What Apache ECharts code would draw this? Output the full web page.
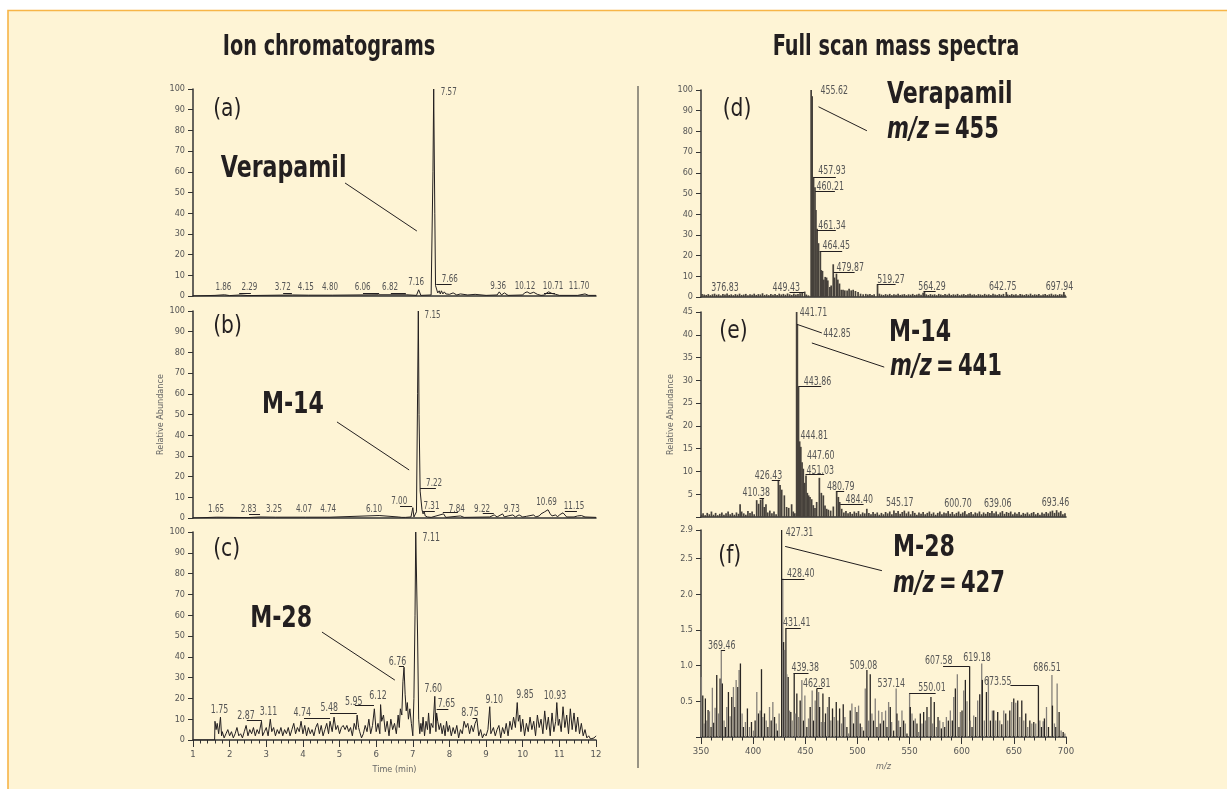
<!DOCTYPE html>
<html><head><meta charset="utf-8">
<script src="https://cdn.jsdelivr.net/npm/echarts@6/dist/echarts.min.js"></script>
<style>html,body{margin:0;padding:0;background:#fff}#c{width:1227px;height:789px}</style>
</head><body><div id="c"></div>
<script>
// ---------------- DATA ----------------
const columnTitles = ['Ion chromatograms', 'Full scan mass spectra'];
const panelLetters = ['(a)', '(b)', '(c)', '(d)', '(e)', '(f)'];
const compounds = ['Verapamil', 'M-14', 'M-28'];
const mzTargets = ['455', '441', '427'];
const timeRange = [1, 12];
const mzRange = [350, 700];
const yMaxes = [100, 100, 100, 100, 45, 2.9];
const yIntervals = [10, 10, 10, 10, 5, 0.5];

// chromatogram (a) : [time, relative abundance]
const chromA = [[1.0,0],[1.6,0.3],[1.86,0.6],[2.0,0.2],[2.29,0.5],[2.5,0.2],[3.72,0.5],[4.15,0.4],[4.8,0.4],[6.06,0.6],[6.82,0.6],[7.10,0.3],[7.16,3],[7.22,0.3],[7.50,0.5],[7.55,60],[7.57,100],[7.60,40],[7.62,5],[7.64,4.5],[7.66,5],[7.68,1.5],[7.72,2.5],[7.75,1],[7.78,2.5],[7.82,1],[7.86,2],[7.9,1],[7.95,1.5],[8.0,0.8],[8.1,1.5],[8.2,0.5],[8.3,1],[8.5,0.5],[8.7,0.8],[9.0,0.3],[9.3,0.5],[9.36,2],[9.42,0.5],[9.5,1.5],[9.6,0.3],[10.0,0.5],[10.05,1.5],[10.12,2],[10.2,1.2],[10.3,1.8],[10.4,0.8],[10.5,0.3],[10.6,0.5],[10.65,1.5],[10.71,2],[10.8,1.2],[10.9,0.8],[11.0,0.3],[11.5,0.3],[11.7,1],[11.8,0.3],[12,0.3]];
// chromatogram (b)
const chromB = [[1,0],[1.65,0.4],[2.5,0.2],[2.83,0.5],[3.25,0.4],[4.07,0.4],[4.74,0.4],[6.08,1.2],[6.10,1.5],[6.12,0.5],[6.6,0.5],[6.65,1.2],[6.7,0.3],[6.75,1],[6.8,0.3],[6.95,0.5],[7.00,5],[7.03,0.5],[7.10,3],[7.13,60],[7.15,100],[7.17,50],[7.20,13],[7.22,13],[7.25,4],[7.28,2],[7.31,3],[7.34,1],[7.4,0.5],[7.45,1],[7.5,0.3],[7.84,2],[7.9,0.3],[8.3,1],[8.4,0.3],[9.1,0.5],[9.22,1.5],[9.3,0.5],[9.45,2],[9.5,0.5],[9.6,1],[9.73,1.5],[9.8,0.5],[9.9,1.5],[10.0,0.5],[10.1,0.8],[10.3,1.5],[10.35,0.5],[10.45,1],[10.5,2],[10.55,1.5],[10.6,3],[10.65,2.5],[10.69,4],[10.72,3.5],[10.75,2],[10.8,1],[10.9,1.5],[10.95,0.5],[11.0,1.5],[11.05,0.8],[11.1,2.5],[11.15,3],[11.2,0.5],[11.4,0.5],[11.5,1],[11.55,0.5],[11.6,1.2],[11.7,0.5],[12,0.3]];
// chromatogram (c)
const chromC = [[1.0,0],[1.59,0],[1.60,9],[1.63,5],[1.66,8],[1.70,3],[1.75,11],[1.78,2],[1.80,4],[1.85,1],[1.90,3],[1.95,5],[2.00,2],[2.05,4],[2.10,1],[2.15,3],[2.20,6],[2.25,2],[2.30,3],[2.35,1],[2.40,4],[2.45,7],[2.50,2],[2.55,5],[2.60,3],[2.65,6],[2.70,2],[2.75,5],[2.80,3],[2.87,9],[2.90,2],[2.95,4],[3.00,6],[3.05,2],[3.11,10],[3.15,4],[3.20,6],[3.25,2],[3.30,5],[3.35,3],[3.40,6],[3.45,2],[3.50,5],[3.55,3],[3.60,6],[3.65,2],[3.70,5],[3.75,8],[3.80,3],[3.85,6],[3.90,4],[3.95,9],[4.00,3],[4.05,7],[4.10,2],[4.15,6],[4.20,3],[4.25,5],[4.30,2],[4.35,6],[4.40,8],[4.45,3],[4.50,7],[4.55,2],[4.60,5],[4.65,8],[4.70,3],[4.74,9],[4.80,4],[4.85,11],[4.90,5],[4.95,7],[5.00,3],[5.05,6],[5.10,7],[5.15,5],[5.20,7],[5.25,4],[5.30,6],[5.35,2],[5.40,8],[5.45,5],[5.48,12],[5.52,6],[5.55,4],[5.60,1],[5.65,3],[5.70,7],[5.75,4],[5.80,10],[5.85,3],[5.90,7],[5.95,15],[6.00,4],[6.05,8],[6.10,3],[6.12,17],[6.15,9],[6.20,12],[6.25,4],[6.30,9],[6.35,2],[6.40,10],[6.45,5],[6.50,8],[6.55,3],[6.60,12],[6.63,6],[6.66,15],[6.70,12],[6.73,28],[6.76,35],[6.79,22],[6.82,14],[6.85,18],[6.88,10],[6.92,15],[6.96,8],[7.00,2],[7.03,20],[7.06,60],[7.08,100],[7.10,100],[7.13,50],[7.16,10],[7.19,3],[7.22,8],[7.25,4],[7.28,11],[7.32,2],[7.36,9],[7.40,5],[7.43,13],[7.47,3],[7.50,8],[7.55,6],[7.60,21],[7.63,4],[7.65,13],[7.68,9],[7.72,5],[7.76,8],[7.80,3],[7.84,7],[7.88,2],[7.92,9],[7.96,4],[8.00,7],[8.05,2],[8.10,6],[8.15,3],[8.20,7],[8.25,1],[8.30,5],[8.35,3],[8.40,9],[8.45,6],[8.50,8],[8.55,3],[8.60,7],[8.65,4],[8.70,8],[8.75,10],[8.80,2],[8.85,5],[8.90,1],[8.95,3],[9.00,2],[9.05,5],[9.10,16],[9.13,3],[9.20,6],[9.25,2],[9.30,5],[9.35,7],[9.40,1],[9.45,6],[9.50,3],[9.55,8],[9.60,2],[9.65,9],[9.70,5],[9.75,11],[9.80,6],[9.85,18],[9.88,9],[9.92,12],[9.95,4],[10.00,10],[10.05,2],[10.10,8],[10.15,4],[10.20,11],[10.25,5],[10.30,9],[10.35,2],[10.40,12],[10.45,6],[10.50,10],[10.55,3],[10.60,14],[10.65,5],[10.70,11],[10.75,2],[10.80,13],[10.85,4],[10.90,9],[10.93,18],[10.97,7],[11.00,10],[11.05,4],[11.10,16],[11.15,6],[11.20,12],[11.25,3],[11.30,15],[11.35,5],[11.40,13],[11.45,4],[11.50,11],[11.55,3],[11.60,8],[11.65,2],[11.70,5],[11.75,1],[11.80,2],[11.85,0.5],[11.90,0.5],[11.95,1],[12.00,2]];

// spectrum (d) : [m/z, relative abundance]
const specD = [[351,1.5],[353,1.2],[355,1.0],[357,1.4],[359,0.9],[361,1.3],[363,1.6],[365,1.1],[367,1.3],[369,0.8],[371,1.5],[373,1.2],[375,1.7],[377,1.0],[379,1.3],[381,0.9],[383,1.4],[385,1.1],[387,1.6],[389,1.0],[391,1.2],[393,1.5],[395,0.9],[397,1.3],[399,1.1],[401,1.6],[403,1.0],[405,1.4],[407,1.2],[409,1.8],[411,1.0],[413,1.3],[415,0.9],[417,1.5],[419,1.1],[421,1.4],[423,1.0],[425,1.6],[427,1.2],[429,1.5],[431,1.1],[433,1.7],[435,1.3],[437,1.0],[439,1.6],[441,1.2],[443,1.5],[445,1.8],[447,2.0],[449.43,2.6],[451,1.2],[453,0.8],[455.62,100],[456.6,97],[457.93,58],[459.3,53],[460.21,42],[461.34,33],[462.7,26],[464.45,22],[465.3,13],[466.5,12.6],[467.8,8.4],[469.1,9.7],[470.4,9.4],[471.6,8],[473.6,4.8],[474.8,5.6],[476.8,15.8],[478.0,9.4],[479.87,11.3],[481.2,8.4],[482.8,6.5],[484.5,3.5],[486.2,3.5],[487.9,3.2],[490.1,3.2],[492.0,4],[494.0,3.2],[495.9,3.5],[498.1,2.9],[500.6,2.4],[503,1.6],[505.5,1.3],[508,1.5],[510,1.2],[512,1.4],[514,1.0],[516,1.3],[519.27,6.1],[521,1.6],[523,1.2],[525,1.0],[527,1.4],[529,1.1],[531,1.5],[533,0.9],[535,1.3],[537,1.1],[539,1.6],[541,1.0],[543,1.2],[545,1.4],[547,0.9],[549,1.3],[551,1.1],[553,1.5],[555,1.0],[557,1.2],[559,1.6],[561,1.1],[563,2.0],[564.29,2.9],[566,1.3],[568,1.0],[570,1.4],[572,1.1],[574,1.3],[576,0.9],[578,1.5],[580,1.2],[582,1.0],[584,1.4],[586,1.1],[588,1.6],[590,1.0],[592,1.3],[594,1.1],[596,1.5],[598,0.9],[600,1.2],[602,1.4],[604,1.0],[606,1.3],[608,1.6],[610,1.1],[612,1.3],[614,0.9],[616,1.4],[618,1.2],[620,1.0],[622,1.5],[624,1.1],[626,1.3],[628,1.0],[630,1.6],[632,1.2],[634,1.0],[636,1.4],[638,1.1],[640,1.5],[642.75,2.4],[644,1.2],[646,1.0],[648,1.4],[650,1.1],[652,1.3],[654,0.9],[656,1.5],[658,1.2],[660,1.0],[662,1.4],[664,1.1],[666,1.6],[668,1.0],[670,1.3],[672,1.1],[674,1.5],[676,0.9],[678,1.2],[680,1.4],[682,1.0],[684,1.3],[686,1.6],[688,1.1],[690,1.3],[692,1.0],[694,1.4],[696,1.2],[697.94,2.4],[699,1.1]];
// spectrum (e)
const specE = [[350.5,0.5],[352,0.8],[354,0.4],[356,0.9],[358,0.6],[360,1.2],[362,0.5],[364,0.9],[366,0.4],[368,0.7],[370,1.0],[372,0.5],[374,0.8],[376,1.2],[378,0.6],[380,0.9],[382,0.5],[384,1.0],[386,0.7],[387.5,2.8],[389,1.2],[391,0.8],[393,0.5],[395,1.3],[397,0.9],[399,1.2],[401,0.6],[403.4,3.7],[405.3,2.9],[407.2,3.8],[409.1,4.0],[410.7,2.2],[412.3,2.8],[414,1.0],[416,1.4],[418,0.8],[420,1.2],[422,0.6],[424.2,8.0],[425.8,7.0],[427.4,6.0],[429.9,4.75],[432.1,2.2],[434.1,2.0],[436.9,2.8],[438.5,1.2],[440,0.8],[441.71,45],[442.4,42.3],[443.5,28.7],[444.6,16.6],[445.7,15.4],[446.9,12],[448.1,10.6],[449.4,7.5],[450.7,9.1],[452.0,5.3],[453.2,4.75],[454.5,4.4],[456.1,3.9],[457.7,2.6],[459.3,2.0],[460.9,3.3],[463.5,8.6],[465.4,5.3],[467.3,4.75],[468.9,2.5],[470.5,1.8],[472.1,1.6],[474.3,1.4],[476.9,2.3],[480.1,5.7],[481.7,4.4],[483.0,3.3],[484.9,1.8],[487,1.0],[489,1.3],[491,0.8],[493,1.1],[495,0.7],[497,1.2],[499,0.9],[501,1.3],[503,0.6],[505,1.0],[507,0.8],[509,1.8],[511,0.9],[513,0.6],[515,1.1],[517,0.7],[519,1.0],[521,0.5],[523,0.9],[525,0.6],[527,1.1],[529,0.8],[531,1.2],[533,0.6],[535,1.4],[537,0.9],[539,1.3],[541,0.7],[543,1.1],[545,1.4],[547,0.8],[549,1.2],[551,0.6],[553,1.3],[555,0.9],[557,0.5],[559,1.0],[561,0.7],[563,1.1],[565,0.6],[567,0.9],[569,1.2],[571,0.7],[573,1.0],[575,0.5],[577,0.9],[579,1.2],[581,0.6],[583,1.0],[585,0.8],[587,1.3],[589,0.7],[591,1.1],[593,0.6],[595,0.9],[597,1.2],[599,0.7],[601,1.0],[603,1.3],[605,0.6],[607,0.9],[609,1.1],[611,0.6],[613,1.0],[615,0.8],[617,1.2],[619,0.6],[621,1.0],[623,0.7],[625,1.1],[627,0.9],[629,1.3],[631,0.8],[633,1.2],[635,0.6],[637,1.0],[639,1.3],[641,0.7],[643,1.1],[645,0.9],[647,1.2],[649,0.6],[651,1.0],[653,0.7],[655,1.1],[657,0.5],[659,0.9],[661,0.7],[663,1.0],[665,0.6],[667,0.9],[669,1.1],[671,0.6],[673,0.9],[675,0.5],[677,1.0],[679,0.7],[681,1.1],[683,0.8],[685,1.2],[687,1.4],[689,0.9],[691,1.5],[693,1.0],[695,1.3],[697,0.6],[699,0.8]];
// spectrum (f)
const specF = [[350.4,0.84],[351.7,0.58],[352.9,0.19],[354.2,0.54],[355.5,0.23],[356.8,0.38],[358.1,0.36],[359.7,0.14],[360.9,0.69],[362.2,0.2],[363.5,0.41],[365.1,0.87],[366.7,0.33],[368.3,0.82],[369.46,1.22],[370.5,0.75],[372.1,0.23],[373.4,0.14],[374.7,0.42],[376.3,0.63],[377.9,0.29],[379.5,0.56],[381.1,0.7],[382.4,0.42],[383.7,0.8],[385.3,0.7],[386.5,0.94],[387.8,1.03],[389.4,0.33],[390.7,0.14],[392.6,0.21],[394.5,0.4],[396.5,0.14],[398.4,0.21],[400.3,0.09],[401.9,0.23],[403.5,0.63],[405.1,0.33],[406.7,0.37],[408.0,0.95],[409.3,0.28],[410.9,0.33],[412.5,0.23],[414.1,0.14],[415.7,0.42],[417.3,0.23],[418.9,0.49],[420.5,0.28],[422.1,0.19],[423.3,0.09],[424.9,0.33],[427.31,2.9],[428.40,2.22],[429.2,1.33],[430.0,1.22],[431.41,1.52],[432.3,0.88],[433.6,0.84],[434.9,0.37],[436.1,0.35],[437.4,0.23],[439.38,0.89],[440.3,0.33],[441.9,0.61],[443.5,0.28],[445.1,0.51],[446.7,0.8],[448.3,0.23],[449.6,0.58],[451.5,0.14],[453.1,0.26],[454.7,0.42],[456.6,0.65],[457.9,0.23],[459.5,0.51],[461.1,0.68],[462.81,0.63],[463.7,0.42],[465.3,0.21],[466.9,0.61],[468.1,0.21],[469.4,0.33],[471.3,0.42],[472.9,0.56],[474.5,0.23],[476.1,0.4],[477.7,0.28],[479.7,0.49],[481.3,0.23],[482.9,0.4],[484.8,0.19],[486.4,0.46],[488.0,0.28],[489.9,0.14],[491.5,0.05],[493.1,0.37],[494.7,0.47],[496.3,0.19],[497.9,0.42],[499.5,0.35],[501.1,0.44],[502.7,0.19],[504.3,0.14],[505.9,0.09],[507.5,0.68],[509.08,0.94],[510.7,0.23],[512.3,0.88],[513.9,0.33],[515.5,0.23],[517.1,0.54],[518.7,0.14],[520.3,0.37],[521.9,0.19],[523.5,0.35],[525.1,0.23],[527.0,0.37],[528.3,0.14],[529.9,0.49],[531.5,0.42],[532.8,0.21],[534.7,0.09],[537.14,0.68],[537.9,0.33],[539.5,0.23],[541.1,0.14],[542.7,0.37],[544.3,0.23],[545.9,0.19],[547.5,0.05],[550.01,0.61],[550.7,0.42],[552.3,0.33],[553.9,0.23],[555.5,0.26],[557.1,0.19],[558.7,0.07],[560.3,0.33],[561.9,0.19],[563.5,0.35],[565.1,0.23],[566.7,0.42],[568.6,0.28],[570.5,0.56],[572.1,0.19],[573.7,0.49],[575.7,0.14],[577.3,0.28],[578.9,0.23],[580.5,0.12],[582.1,0.21],[583.7,0.14],[585.3,0.28],[587.2,0.23],[589.1,0.37],[591.0,0.23],[592.3,0.56],[593.9,0.68],[595.8,0.88],[597.4,0.14],[598.7,0.35],[600.3,0.37],[601.9,0.65],[603.5,0.8],[605.1,0.5],[607.58,0.99],[608.3,0.23],[609.9,0.14],[611.5,0.3],[613.4,0.28],[615.3,0.51],[617.3,0.6],[619.18,1.03],[619.8,0.8],[621.7,0.23],[623.7,0.63],[625.6,0.84],[627.5,0.23],[629.4,0.37],[630.7,0.37],[632.6,0.23],[634.5,0.35],[636.5,0.23],[638.4,0.18],[640.3,0.37],[642.2,0.33],[644.1,0.23],[646.1,0.37],[648.0,0.49],[649.9,0.54],[651.8,0.48],[653.7,0.51],[655.7,0.28],[657.6,0.51],[659.5,0.23],[661.4,0.33],[663.3,0.14],[665.3,0.23],[667.2,0.19],[669.1,0.21],[671.0,0.19],[673.55,0.72],[674.9,0.23],[676.5,0.14],[678.1,0.22],[679.3,0.26],[681.3,0.42],[683.2,0.14],[686.51,0.87],[687.0,0.44],[688.9,0.19],[690.2,0.14],[691.5,0.75],[693.4,0.35],[695.3,0.09],[697.3,0.07],[698.9,0.05]];

// peak labels: [x, y, text]  (label centre, in data units)
const peakLabelsA = [[1.83,4,'1.86'],[2.54,4,'2.29'],[3.45,4,'3.72'],[4.08,4,'4.15'],[4.74,4,'4.80'],[5.63,4,'6.06'],[6.38,4,'6.82'],[7.09,6.4,'7.16'],[7.98,98.5,'7.57'],[8.01,8.2,'7.66'],[9.33,4.8,'9.36'],[10.06,4.8,'10.12'],[10.83,4.8,'10.71'],[11.54,4.8,'11.70']];
const peakLabelsB = [[1.63,4.3,'1.65'],[2.52,4.3,'2.83'],[3.21,4.3,'3.25'],[4.03,4.3,'4.07'],[4.69,4.3,'4.74'],[5.94,4.3,'6.10'],[6.63,7.9,'7.00'],[7.54,98,'7.15'],[7.58,16.7,'7.22'],[7.51,5.5,'7.31'],[8.20,4.3,'7.84'],[8.89,4.3,'9.22'],[9.70,4.3,'9.73'],[10.65,7.6,'10.69'],[11.40,5.5,'11.15']];
const peakLabelsC = [[1.72,14.4,'1.75'],[2.45,11.5,'2.87'],[3.06,13.3,'3.11'],[3.98,13.1,'4.74'],[4.72,15.2,'5.48'],[5.39,18.4,'5.95'],[6.05,21.2,'6.12'],[6.58,37.6,'6.76'],[7.50,97,'7.11'],[7.56,24.5,'7.60'],[7.92,17.3,'7.65'],[8.56,12.8,'8.75'],[9.22,19.2,'9.10'],[10.06,21.6,'9.85'],[10.88,21.2,'10.93']];
const peakLabelsD = [[477.7,99.7,'455.62'],[475.5,60.8,'457.93'],[473.9,53.2,'460.21'],[475.5,34.4,'461.34'],[479.7,24.5,'464.45'],[493.1,14.2,'479.87'],[532.1,8.4,'519.27'],[373.1,4.5,'376.83'],[431.7,4.5,'449.43'],[571.5,4.8,'564.29'],[639.3,4.8,'642.75'],[693.7,4.8,'697.94']];
const peakLabelsE = [[457.9,44.8,'441.71'],[480.3,40.2,'442.85'],[461.7,29.6,'443.86'],[458.5,17.8,'444.81'],[464.9,13.3,'447.60'],[464.3,10.1,'451.03'],[484.1,6.6,'480.79'],[501.7,3.8,'484.40'],[414.7,9.1,'426.43'],[402.9,5.3,'410.38'],[540.5,3.1,'545.17'],[596.5,2.9,'600.70'],[634.5,2.9,'639.06'],[689.9,3.1,'693.46']];
const peakLabelsF = [[444.5,2.86,'427.31'],[445.7,2.28,'428.40'],[441.9,1.60,'431.41'],[369.9,1.27,'369.46'],[449.9,0.97,'439.38'],[461.1,0.74,'462.81'],[505.9,1.0,'509.08'],[532.5,0.74,'537.14'],[571.5,0.68,'550.01'],[577.9,1.06,'607.58'],[614.7,1.1,'619.18'],[634.5,0.77,'673.55'],[681.9,0.96,'686.51']];

// label underlines: [x1, x2, y]
const underA = [[2.26,2.58,1.5],[3.46,3.70,1.5],[5.64,6.08,1.5],[6.40,6.81,1.5],[7.64,8.06,5.8],[10.58,10.88,1.5]];
const underB = [[2.53,2.83,1.9],[6.65,6.98,5.8],[7.20,7.63,14.5],[7.28,7.60,3.4],[7.82,8.23,2.9],[8.91,9.21,2.4],[11.15,11.48,3.4]];
const underC = [[2.47,2.88,9.3],[4.03,4.74,10.3],[4.74,5.47,12.8],[5.42,5.94,16.5],[6.62,6.76,35.3],[7.65,7.97,14.7],[8.63,8.76,10.3]];
const underD = [[457.9,479.3,58],[459.5,478.4,51],[461.1,479.3,32.3],[463.7,485.4,22.1],[477.1,497.3,11.8],[518.7,536.6,6.1],[434.9,448.9,2.4],[563.5,575,2.9]];
const underE = [[443.5,465.3,28.7],[450.2,468.1,9.3],[417.9,425.9,8],[406.1,410.5,4.2],[479.7,487.3,5.7],[483.5,505.9,2.7]];
const underF = [[427.5,449.3,2.21],[431.0,445.7,1.53],[369.3,373.1,1.22],[438.7,453.1,0.89],[461.1,466.5,0.68],[549.6,575,0.61],[582.1,607.58,0.99],[646.7,673.55,0.72]];

// pointer lines: [x1, y1, x2, y2]
const pointersA = [[5.15,54.6,7.11,31.4]];
const pointersB = [[4.93,46.4,6.90,23.2]];
const pointersC = [[4.52,51.9,6.51,28.8]];
const pointersD = [[462.7,91.9,509.1,80.3]];
const pointersE = [[456.3,38.2,525.7,32.9],[441.9,42.3,465.9,40.4]];
const pointersF = [[430.7,2.67,523.5,2.33]];

// panel letter positions (left edge, middle) and compound-name positions
const letterPos = [[1.55,89.9],[1.55,92.4],[1.55,91.7],[370.8,90.7],[367.6,40.7],[366.6,2.53]];
const namePos = [[1.76,61.4],[2.88,54.6],[2.56,58.2],[528.4,97.6],[530.3,40.4],[534.1,2.65]];
const mzPos = [[528.4,80.7],[531.2,32.9],[534.1,2.14]];

// ---------------- CHART ----------------
const FONT = '"Liberation Sans Narrow","Arial Narrow","DejaVu Sans Condensed",sans-serif';
const INK = '#231f20';
const GREY = '#555';
const AX = '#333';
const SQUEEZE = 0.76;

const grids = [
  {left:193, top:89, width:403, height:207},
  {left:193, top:311, width:403, height:207},
  {left:193, top:532, width:403, height:208},
  {left:701, top:90, width:365, height:207},
  {left:701, top:312, width:365, height:205},
  {left:701, top:530, width:365, height:207}
].map(g => Object.assign({outerBoundsMode:'none', containLabel:false}, g));

function xAx(gi, range, withLabels, interval, name) {
  return {
    type:'value', gridIndex:gi, min:range[0], max:range[1], interval:interval,
    axisLine:{show:true, onZero:false, lineStyle:{color:AX, width:1.5}},
    axisTick:{show:withLabels, length:7, lineStyle:{color:AX, width:1}},
    minorTick:{show:withLabels, splitNumber:5, length:3.5, lineStyle:{color:AX, width:1}},
    axisLabel:{show:withLabels, margin:10, fontSize:9.5, color:GREY, fontFamily:FONT},
    splitLine:{show:false}, minorSplitLine:{show:false},
    name:name||'', nameLocation:'middle', nameGap:25,
    nameTextStyle:{fontSize:9, color:'#666', fontFamily:FONT, fontStyle: name==='m/z'?'italic':'normal'}
  };
}
function yAx(gi, max, interval, fmt, name, gap) {
  return {
    type:'value', gridIndex:gi, min:0, max:max, interval:interval,
    axisLine:{show:true, lineStyle:{color:AX, width:1.5}},
    axisTick:{show:true, length:5, lineStyle:{color:AX, width:1}},
    axisLabel:{show:true, margin:8, fontSize:9, color:GREY, fontFamily:FONT, formatter:fmt},
    splitLine:{show:false},
    name:name||'', nameLocation:'middle', nameGap:gap||30, nameRotate:90,
    nameTextStyle:{fontSize:9, color:'#666', fontFamily:FONT}
  };
}

function buildMarkLine(under, pointers) {
  const data = [];
  under.forEach(u => data.push([{coord:[u[0],u[2]]},{coord:[u[1],u[2]]}]));
  pointers.forEach(p => data.push([{coord:[p[0],p[1]]},{coord:[p[2],p[3]]}]));
  return {silent:true, symbol:['none','none'], animation:false, label:{show:false},
    lineStyle:{type:'solid', color:INK, width:1, opacity:1}, emphasis:{disabled:true}, data:data};
}

const chromData = [chromA, chromB, chromC];
const specData = [specD, specE, specF];
const labelSets = [peakLabelsA, peakLabelsB, peakLabelsC, peakLabelsD, peakLabelsE, peakLabelsF];
const labelSizes = [10.5, 10.5, 11.5, 11.5, 11.5, 11.5];
const underSets = [underA, underB, underC, underD, underE, underF];
const pointerSets = [pointersA, pointersB, pointersC, pointersD, pointersE, pointersF];

const series = [];
for (let i = 0; i < 3; i++) {
  series.push({
    type:'line', xAxisIndex:i, yAxisIndex:i, data:chromData[i], showSymbol:false, symbol:'none',
    lineStyle:{color:INK, width:1}, silent:true, clip:true,
    markLine:buildMarkLine(underSets[i], pointerSets[i])
  });
}
for (let k = 0; k < 3; k++) {
  const i = k + 3;
  series.push({
    type:'bar', xAxisIndex:i, yAxisIndex:i, data:specData[k], barWidth: k===2?1.3:1.7, silent:true,
    itemStyle:{color: k===2 ? (p => (p.dataIndex % 2 ? '#2a2623' : '#85807a')) : '#46413b'},
    markLine:buildMarkLine(underSets[i], pointerSets[i])
  });
}

const fmtInt = v => String(v);
const option = {
  animation:false,
  backgroundColor:'#ffffff',
  grid:grids,
  xAxis:[
    xAx(0, timeRange, false), xAx(1, timeRange, false), xAx(2, timeRange, true, 1, 'Time (min)'),
    xAx(3, mzRange, false), xAx(4, mzRange, false), xAx(5, mzRange, true, 50, 'm/z')
  ],
  yAxis:[
    yAx(0, yMaxes[0], yIntervals[0], fmtInt), yAx(1, yMaxes[1], yIntervals[1], fmtInt, 'Relative Abundance', 28),
    yAx(2, yMaxes[2], yIntervals[2], fmtInt),
    yAx(3, yMaxes[3], yIntervals[3], fmtInt),
    yAx(4, yMaxes[4], yIntervals[4], v => v === 0 ? '' : String(v), 'Relative Abundance', 26),
    yAx(5, yMaxes[5], yIntervals[5], v => v === 0 ? '' : v.toFixed(1))
  ],
  series:series
};

const chart = echarts.init(document.getElementById('c'), null, {renderer:'canvas', width:1227, height:789});
chart.setOption(option);

// texts placed through the axes' own scales (data -> pixel)
const graphics = [
  {type:'rect', id:'frame', z:-10, silent:true, shape:{x:8, y:10.5, width:1240, height:800},
   style:{fill:'#fef4d5', stroke:'#f7b548', lineWidth:1.6}},
  {type:'line', id:'divider', z:-5, silent:true, shape:{x1:638, y1:86, x2:638, y2:768}, style:{stroke:AX, lineWidth:1}},
  {type:'text', id:'t0', silent:true, x:329, y:47, scaleX:0.74, style:{text:columnTitles[0], fontSize:29, fontWeight:'bold', fontFamily:FONT, fill:INK, align:'center', verticalAlign:'middle'}},
  {type:'text', id:'t1', silent:true, x:896, y:47, scaleX:0.74, style:{text:columnTitles[1], fontSize:29, fontWeight:'bold', fontFamily:FONT, fill:INK, align:'center', verticalAlign:'middle'}}
];
let gid = 0;
function place(gi, xy, style, sx) {
  const p = chart.convertToPixel({gridIndex:gi}, xy);
  graphics.push({type:'text', id:'g' + (gid++), silent:true, z:20, x:p[0], y:p[1], scaleX:sx,
    style:Object.assign({fontFamily:FONT, verticalAlign:'middle'}, style)});
}
for (let i = 0; i < 6; i++) {
  labelSets[i].forEach(l => place(i, [l[0], l[1]], {text:l[2], fontSize:labelSizes[i], fill:GREY, align:'center'}, SQUEEZE));
  place(i, letterPos[i], {text:panelLetters[i], fontSize:25, fill:INK, align:'left'}, 0.9);
  const c = i % 3;
  place(i, namePos[i], {text:compounds[c], fontSize:30, fontWeight:'bold', fill:INK, align:'left'}, 0.82);
  if (i >= 3) {
    place(i, mzPos[c], {text:'{i|m/z}\u2009=\u2009' + mzTargets[c], fontSize:30, fontWeight:'bold', fill:INK, align:'left',
      rich:{i:{fontStyle:'italic', fontWeight:'bold', fontSize:30, fontFamily:FONT, fill:INK}}}, 0.78);
  }
}
chart.setOption({graphic:graphics});
</script>
</body></html>
